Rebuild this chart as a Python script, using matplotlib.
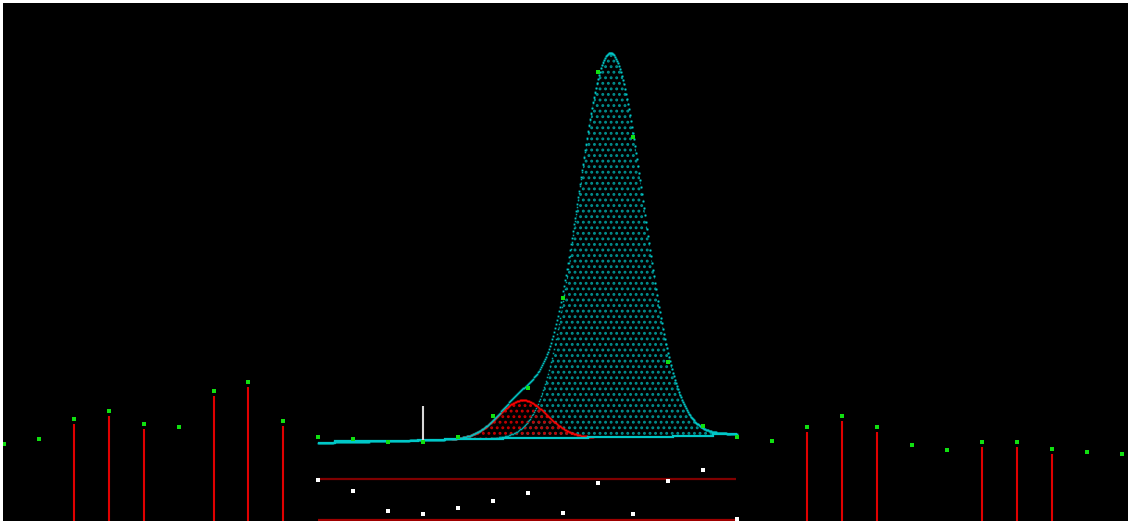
import numpy as np
import matplotlib
matplotlib.use("Agg")
import matplotlib.pyplot as plt

# # # # # data # # # # #

# measured counts per channel (green points)
channels = np.arange(33)
counts = [77, 82, 102, 110, 97, 94, 130, 139, 100, 84, 82, 79, 79, 84, 105, 133,
          223, 449, 384, 159, 95, 84, 80, 94, 105, 94, 76, 71, 79, 79, 72, 69, 67]

# channels that carry a red stick below the point
stick_channels = [2, 3, 4, 6, 7, 8, 23, 24, 25, 28, 29, 30]

# fit window and step background
fit_lo, fit_hi = 9, 21
bg_edges = [9.0, 9.48, 11.85, 12.63, 14.29, 16.72, 19.15, 20.30, 21.0]
bg_level = [78.3, 79.7, 81.0, 82.0, 82.7, 84.3, 85.0, 86.7]

# fitted peaks: main (cyan) and shoulder (red)
peak_center = [17.37, 14.86]
peak_height = [384.0, 38.5]
peak_sigma = [0.945, 0.69]

# marker line at channel 12
marker_ch = 12
marker_top = 115

# residual panel (plotted level) and its limit lines
resid = [41, 30, 10, 6.7, 13.3, 20, 28.3, 8.3, 38, 6.7, 39.7, 51.3, 2]
resid_lines = [42, 1.5]


# # # # # figure # # # # #

plt.rcParams["hatch.linewidth"] = 1.3

fig = plt.figure(figsize=(11.31, 5.21), dpi=100, facecolor="white")
ax = fig.add_axes([3 / 1131, 0, 1125 / 1131, 518 / 521])
ax.set_facecolor("black")
ax.set_xlim(-0.0286, 32.18)
ax.set_ylim(0, 518)
ax.axis("off")
ax.add_patch(plt.Rectangle((0, 0), 1, 1, transform=ax.transAxes,
                           color="black", zorder=0))

# red sticks
for c in stick_channels:
    ax.vlines(c, 0, counts[c] - 5, color="#e00000", lw=1.5, zorder=2)

# sample the fit at pixel resolution
xs = np.arange(fit_lo, fit_hi + 1e-9, 1 / 34.93)
mids = [(bg_edges[k] + bg_edges[k + 1]) / 2 for k in range(len(bg_level))]
bg = np.interp(xs, mids, bg_level)
comps = [h * np.exp(-0.5 * ((xs - c) / s) ** 2)
         for c, h, s in zip(peak_center, peak_height, peak_sigma)]
total = bg + comps[0] + comps[1]

# hatched components
ax.fill_between(xs, bg, bg + comps[0], facecolor="none", edgecolor="#009090",
                hatch="...", linewidth=0, zorder=3)
ax.fill_between(xs, bg, bg + comps[1], where=comps[1] > 0.5, facecolor="none",
                edgecolor="#c80000", hatch="...", linewidth=0, zorder=4)

# outlines drawn pixel by pixel
m0 = comps[0] > 0.5
ax.plot(xs[m0], (bg + comps[0])[m0], ls="none", marker="s", ms=1.1,
        mew=0, color="#00a8a8", zorder=5)
m1 = comps[1] > 0.5
ax.plot(xs[m1], (bg + comps[1])[m1], ls="none", marker="s", ms=1.3,
        mew=0, color="#ff0000", zorder=6)
ax.plot(xs, total, ls="none", marker="s", ms=1.3, mew=0,
        color="#00c8c8", zorder=7)

# step background
ax.stairs(bg_level, bg_edges, color="#00c8c8", lw=1.6, baseline=None, zorder=7)

# marker line
ax.vlines(marker_ch, bg_level[2], marker_top, color="#d8d8d8", lw=1.5, zorder=8)

# residual limit lines and residuals
ax.hlines(resid_lines[0], fit_lo, fit_hi - 0.05, color="#800000", lw=1.6, zorder=2)
ax.hlines(resid_lines[1], fit_lo, fit_hi, color="#a00000", lw=1.6, zorder=2)
ax.plot(channels[fit_lo:fit_hi + 1], resid, ls="none", marker="s", ms=2.6,
        mew=0, color="white", zorder=9)

# data points
ax.plot(channels, counts, ls="none", marker="s", ms=3, mew=0,
        color="#10e010", zorder=10)

fig.savefig("out.png", dpi=100, facecolor="white")
